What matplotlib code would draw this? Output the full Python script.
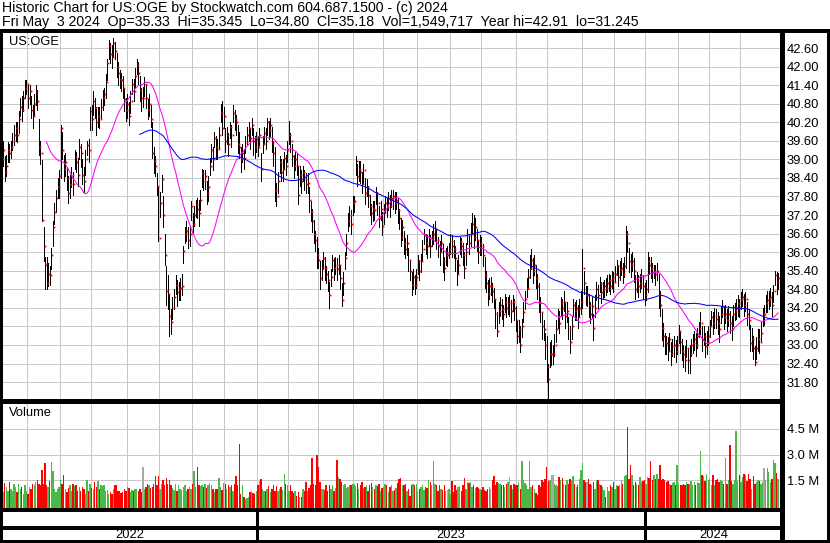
import matplotlib
matplotlib.use('Agg')
import matplotlib.pyplot as plt
import numpy as np
import pandas as pd

plt.rcParams['font.family'] = ['Liberation Sans', 'DejaVu Sans']

# daily bars, 6 May 2022 .. 3 May 2024
prev_close = 39.6
close = [
    39.0, 39.3, 38.6, 38.8, 39.3, 39.2, 39.4,
    39.6, 39.8, 40.0, 39.8, 40.3, 40.7, 40.6, 41.0, 41.3, 41.45,
    41.0, 41.2, 40.6, 40.4, 40.8, 41.2, 40.9, 39.4, 39.2, 37.05,
    36.2, 35.6, 35.0, 35.3, 35.25, 35.9, 36.8, 37.3, 37.75, 38.1,
    38.45, 40.0, 39.3, 38.7, 38.9, 38.4, 37.9, 38.2, 38.5, 38.2,
    39.1, 38.9, 38.5, 39.4, 39.2, 38.5, 38.3, 39.0, 39.45, 39.3,
    40.55, 40.3, 40.9, 40.65, 40.2, 40.4, 40.3, 40.7, 41.0, 41.1,
    41.5, 42.1, 42.65, 42.4, 42.3, 42.75, 42.5, 42.0, 41.8, 41.6,
    41.55, 41.3, 40.95, 40.6, 40.8, 40.4, 40.9, 41.45, 41.2, 41.7,
    42.05, 41.8, 41.25, 41.0, 41.0, 41.45, 41.0, 40.6, 40.8, 40.3,
    39.2, 38.95, 38.8, 38.15, 36.45, 37.6, 38.35, 37.2, 35.9, 34.75,
    34.65, 33.95, 33.75, 34.2, 34.55, 34.95, 34.7, 34.8, 34.85, 34.9,
    36.05, 36.6, 36.7, 36.4, 36.6, 37.5, 36.9, 37.2, 37.55, 37.4,
    37.25, 37.7, 38.55, 38.3, 38.45, 37.9, 38.1, 38.8, 39.3, 39.0,
    39.7, 39.4, 39.35, 39.8, 40.5, 40.0, 40.4, 39.6, 39.8, 39.5,
    40.05, 39.8, 40.5, 40.3, 40.2, 39.5, 39.4, 39.0, 39.2, 39.05,
    39.55, 39.8, 40.0, 39.7, 40.1, 39.6, 39.4, 39.65, 39.4, 39.8,
    38.7, 39.5, 39.85, 39.6, 40.2, 39.95, 40.1, 39.55, 39.2, 38.0,
    37.8, 38.3, 38.9, 38.6, 38.7, 39.05, 38.8, 39.3, 39.8, 39.6,
    39.1, 38.8, 39.0, 38.8, 37.85, 38.5, 38.3, 38.6, 38.35, 38.2,
    38.25, 37.7, 37.3, 37.0, 36.6, 36.4, 35.9, 35.75, 35.15, 35.5,
    35.8, 35.5, 35.3, 35.1, 34.6, 35.2, 35.75, 35.5, 35.6, 35.45,
    35.6, 35.15, 34.45, 35.0, 35.8, 36.3, 37.0, 37.2, 36.9, 37.6,
    37.65, 38.95, 38.45, 38.7, 38.6, 38.2, 38.65, 37.9, 38.1, 37.85,
    37.5, 37.25, 37.4, 37.35, 37.9, 37.6, 37.1, 37.4, 36.85, 37.3,
    37.6, 37.45, 37.75, 37.5, 37.75, 37.8, 37.6, 37.7, 37.35, 37.1,
    36.5, 36.8, 36.3, 36.1, 36.3, 35.75, 35.4, 34.95, 35.2, 34.95,
    35.2, 35.7, 35.4, 35.7, 36.1, 36.55, 36.3, 36.2, 36.5, 36.2,
    36.5, 36.6, 36.75, 36.4, 36.2, 36.0, 36.3, 35.7, 35.5, 35.9,
    35.9, 36.1, 36.35, 36.2, 36.1, 35.8, 35.3, 35.6, 36.35, 36.2,
    35.9, 35.5, 36.0, 36.55, 36.3, 36.6, 36.9, 36.5, 36.8, 36.4,
    36.0, 36.3, 36.2, 35.9, 35.25, 35.0, 34.65, 34.9, 34.9, 34.75,
    34.5, 34.0, 33.45, 34.1, 34.3, 34.15, 34.0, 34.4, 34.2, 34.35,
    34.35, 34.1, 34.4, 34.2, 33.8, 33.3, 33.5, 33.0, 33.6, 34.05,
    34.5, 34.85, 35.2, 35.5, 35.75, 35.4, 35.6, 35.15, 34.9, 34.4,
    34.05, 33.6, 33.5, 33.0, 32.3, 31.9, 32.7, 32.7, 32.7, 33.0,
    33.5, 33.9, 33.7, 34.35, 34.2, 34.4, 33.95, 34.1, 33.5, 33.1,
    33.6, 34.3, 34.1, 34.2, 33.9, 34.2, 34.4, 35.5, 35.0, 34.6,
    34.6, 34.3, 34.0, 34.25, 33.55, 34.2, 34.8, 34.6, 35.0, 34.7,
    34.8, 34.9, 34.85, 35.0, 35.1, 34.9, 35.15, 35.05, 35.3, 35.55,
    35.2, 35.45, 35.5, 35.3, 35.55, 36.6, 36.3, 35.7, 35.6, 35.7,
    35.4, 34.8, 35.1, 34.9, 35.0, 35.2, 34.9, 34.6, 34.8, 35.7,
    35.6, 35.5, 35.35, 35.4, 35.3, 35.4, 34.6, 34.3, 33.55, 33.3,
    33.1, 33.05, 32.8, 33.2, 32.7, 32.95, 33.0, 32.8, 33.0, 33.45,
    33.1, 32.8, 32.7, 32.5, 32.9, 32.5, 32.7, 33.0, 33.05, 33.2,
    33.0, 33.3, 33.55, 33.7, 33.2, 33.3, 32.95, 33.1, 33.3, 33.6,
    33.9, 33.7, 33.95, 33.85, 33.7, 33.5, 34.0, 34.25, 33.9, 34.0,
    33.8, 34.0, 33.7, 33.5, 34.0, 34.1, 34.2, 34.35, 34.2, 34.5,
    34.55, 34.3, 34.5, 34.0, 33.8, 33.05, 33.2, 32.9, 32.45, 32.9,
    33.2, 33.1, 33.4, 34.0, 34.0, 34.35, 34.45, 34.5, 34.55, 34.3,
    34.75, 35.25, 35.05, 35.18,
]
# high above close / low below close, in cents
high_up = [
    45, 30, 50, 35, 25, 30, 20,
    25, 30, 20, 40, 25, 30, 45, 20, 25, 10,
    40, 20, 45, 35, 30, 20, 35, 90, 40, 193,
    60, 25, 85, 35, 30, 25, 20, 30, 25, 30,
    20, 10, 60, 45, 30, 35, 55, 30, 25, 40,
    20, 35, 55, 25, 30, 50, 45, 30, 15, 35,
    15, 45, 30, 35, 50, 30, 40, 25, 25, 20,
    25, 15, 20, 35, 40, 16, 30, 45, 35, 30,
    25, 40, 35, 40, 30, 45, 30, 15, 40, 25,
    20, 35, 45, 30, 35, 20, 40, 35, 30, 45,
    100, 45, 30, 40, 170, 35, 15, 60, 70, 80,
    60, 70, 40, 35, 25, 30, 40, 25, 30, 40,
    15, 20, 30, 40, 25, 15, 35, 30, 15, 35,
    45, 30, 15, 35, 20, 40, 35, 25, 20, 40,
    20, 35, 30, 25, 30, 90, 30, 40, 25, 35,
    15, 30, 25, 30, 25, 60, 50, 40, 30, 25,
    20, 25, 20, 30, 25, 40, 35, 25, 35, 20,
    50, 25, 20, 40, 15, 30, 25, 50, 40, 140,
    45, 30, 20, 40, 30, 20, 35, 30, 45, 25,
    40, 35, 25, 40, 90, 30, 35, 20, 30, 35,
    30, 40, 35, 40, 45, 30, 60, 40, 55, 25,
    20, 35, 25, 30, 45, 25, 15, 30, 25, 35,
    30, 40, 55, 35, 20, 30, 25, 30, 45, 20,
    15, 15, 40, 25, 35, 40, 20, 50, 25, 30,
    35, 30, 25, 30, 20, 35, 40, 25, 45, 25,
    20, 30, 20, 35, 25, 20, 35, 25, 40, 30,
    60, 25, 40, 35, 25, 40, 35, 40, 25, 30,
    25, 20, 35, 25, 30, 20, 30, 35, 25, 35,
    20, 30, 25, 35, 30, 35, 25, 55, 35, 25,
    30, 20, 25, 35, 30, 40, 45, 30, 15, 25,
    40, 50, 30, 20, 30, 35, 35, 70, 30, 35,
    40, 25, 30, 35, 60, 40, 45, 25, 30, 25,
    35, 45, 60, 30, 25, 35, 30, 25, 35, 20,
    25, 35, 20, 30, 45, 50, 30, 60, 25, 35,
    25, 30, 25, 40, 35, 40, 30, 45, 40, 60,
    50, 45, 30, 40, 100, 50, 40, 45, 30, 35,
    30, 25, 40, 20, 30, 35, 45, 30, 40, 50,
    35, 20, 30, 25, 40, 30, 35, 60, 40, 30,
    30, 35, 40, 30, 45, 40, 25, 35, 20, 35,
    25, 20, 30, 25, 20, 35, 25, 30, 25, 20,
    40, 25, 30, 35, 30, 26, 40, 45, 35, 30,
    40, 45, 25, 35, 30, 25, 35, 40, 30, 30,
    25, 35, 30, 20, 30, 25, 70, 45, 60, 40,
    30, 25, 45, 20, 40, 25, 30, 35, 30, 20,
    35, 40, 30, 45, 25, 40, 30, 20, 30, 25,
    40, 25, 20, 35, 40, 30, 45, 35, 30, 20,
    20, 35, 25, 30, 35, 45, 25, 20, 35, 30,
    35, 25, 40, 45, 30, 25, 30, 25, 30, 20,
    25, 35, 20, 40, 35, 60, 35, 40, 50, 35,
    30, 40, 35, 20, 30, 25, 30, 25, 30, 40,
    20, 15, 30, 16,
]
low_dn = [
    30, 50, 30, 35, 40, 30, 35,
    30, 35, 40, 25, 45, 30, 35, 45, 30, 35,
    35, 40, 25, 40, 35, 45, 30, 25, 35, 5,
    50, 80, 20, 40, 30, 45, 60, 40, 45, 35,
    70, 160, 30, 40, 45, 40, 30, 45, 40, 35,
    40, 30, 35, 40, 45, 30, 35, 50, 30, 40,
    60, 35, 45, 30, 40, 35, 30, 35, 40, 35,
    50, 55, 40, 30, 35, 40, 25, 35, 40, 30,
    35, 30, 40, 35, 45, 30, 40, 35, 30, 35,
    30, 40, 35, 45, 30, 40, 35, 30, 40, 25,
    15, 40, 35, 30, 10, 45, 40, 40, 30, 45,
    50, 65, 40, 35, 40, 30, 45, 35, 40, 30,
    40, 30, 35, 25, 40, 45, 30, 35, 40, 30,
    40, 35, 45, 30, 40, 35, 45, 30, 40, 35,
    30, 40, 35, 45, 30, 20, 40, 35, 30, 40,
    35, 40, 30, 35, 40, 30, 35, 40, 30, 35,
    35, 30, 40, 35, 30, 45, 35, 40, 30, 35,
    40, 30, 35, 25, 40, 30, 35, 30, 40, 35,
    30, 40, 35, 30, 40, 35, 30, 40, 30, 35,
    30, 40, 35, 30, 30, 35, 40, 30, 35, 30,
    35, 40, 30, 35, 30, 35, 40, 25, 35, 40,
    35, 40, 30, 35, 40, 30, 35, 40, 30, 35,
    30, 35, 20, 40, 35, 40, 30, 35, 30, 40,
    35, 45, 30, 40, 35, 30, 40, 35, 30, 40,
    30, 35, 40, 30, 35, 40, 30, 35, 30, 40,
    35, 30, 40, 35, 30, 40, 35, 30, 40, 35,
    30, 40, 35, 30, 40, 35, 30, 35, 40, 30,
    35, 40, 30, 35, 40, 30, 35, 40, 30, 35,
    30, 35, 40, 30, 35, 40, 30, 35, 40, 30,
    35, 30, 40, 35, 30, 40, 35, 30, 40, 35,
    30, 35, 40, 30, 35, 40, 30, 35, 40, 35,
    35, 40, 30, 35, 40, 30, 35, 40, 30, 35,
    30, 45, 15, 40, 35, 30, 40, 35, 30, 35,
    40, 35, 30, 40, 35, 25, 40, 22, 35, 30,
    35, 30, 40, 35, 30, 40, 35, 30, 40, 35,
    30, 40, 35, 45, 50, 65, 40, 35, 30, 35,
    40, 35, 30, 40, 35, 30, 40, 35, 30, 35,
    40, 35, 30, 40, 35, 30, 40, 130, 35, 30,
    35, 40, 30, 35, 40, 30, 35, 40, 30, 35,
    30, 35, 25, 30, 35, 25, 30, 35, 25, 30,
    30, 35, 25, 30, 35, 110, 30, 35, 40, 30,
    35, 30, 40, 35, 30, 35, 40, 30, 35, 100,
    30, 35, 30, 25, 35, 30, 40, 35, 40, 35,
    40, 35, 30, 40, 35, 30, 40, 35, 30, 40,
    35, 30, 40, 35, 30, 40, 60, 35, 30, 35,
    35, 40, 30, 35, 40, 30, 35, 40, 30, 35,
    30, 35, 40, 30, 35, 40, 30, 35, 40, 30,
    35, 40, 30, 35, 40, 30, 35, 40, 30, 35,
    30, 35, 40, 35, 30, 25, 40, 35, 10, 35,
    40, 35, 30, 40, 35, 30, 40, 35, 30, 35,
    35, 30, 40, 38,
]
# volume, millions of shares
volume = [
    1.2, 0.8, 1.35, 1.1, 0.9, 1.4, 1.0,
    0.9, 1.3, 1.1, 0.8, 1.3, 1.0, 1.1, 0.7, 1.25, 0.9,
    0.7, 1.1, 1.0, 1.3, 1.25, 1.4, 1.5, 1.3, 1.2, 2.1,
    1.3, 2.5, 1.2, 1.1, 1.45, 2.55, 2.05, 1.0, 0.8, 1.0,
    1.1, 1.5, 1.3, 1.8, 1.0, 0.8, 1.05, 1.2, 0.9, 1.3,
    1.15, 1.25, 0.85, 1.1, 0.9, 1.1, 1.0, 0.7, 1.5, 0.9,
    1.3, 1.05, 1.0, 1.4, 1.1, 1.45, 1.0, 1.2, 1.15, 1.2,
    0.9, 0.95, 0.7, 0.8, 0.7, 1.0, 1.2, 1.25, 0.85, 0.9,
    0.75, 0.8, 1.0, 0.9, 1.1, 1.05, 0.8, 0.95, 0.9, 1.0,
    1.0, 0.85, 1.0, 0.8, 2.3, 1.0, 1.1, 1.3, 1.2, 1.05,
    1.1, 1.3, 1.75, 1.2, 1.75, 1.0, 1.3, 1.5, 1.2, 1.65,
    1.3, 1.5, 1.2, 1.05, 0.95, 1.3, 0.9, 1.2, 1.0, 0.95,
    1.1, 1.25, 0.9, 1.0, 1.1, 1.0, 1.3, 2.05, 1.1, 2.25,
    1.25, 1.15, 1.2, 1.1, 1.3, 1.05, 1.25, 1.35, 1.2, 1.0,
    0.8, 1.0, 1.0, 1.65, 1.1, 0.95, 1.35, 1.3, 1.0, 1.2,
    1.1, 1.2, 0.9, 1.3, 1.75, 1.2, 3.6, 0.7, 1.2, 0.5,
    0.4, 0.45, 0.5, 0.8, 0.9, 0.75, 0.7, 0.9, 1.2, 1.45,
    1.6, 1.0, 0.9, 0.85, 1.0, 1.15, 0.8, 1.0, 1.25, 0.9,
    1.15, 0.85, 1.0, 1.1, 0.95, 1.85, 1.3, 1.2, 0.9, 1.25,
    0.9, 0.75, 0.9, 0.6, 0.8, 0.5, 0.55, 1.0, 0.9, 1.4,
    0.9, 1.05, 1.2, 2.8, 1.3, 1.2, 3.0, 2.3, 1.4, 1.0,
    1.0, 0.95, 1.25, 0.9, 1.2, 1.0, 1.25, 0.9, 1.05, 2.7,
    1.7, 1.6, 1.4, 1.2, 1.3, 1.05, 1.1, 1.25, 1.2, 1.3,
    1.3, 1.15, 1.35, 1.0, 1.2, 1.4, 1.05, 1.1, 1.2, 0.9,
    1.25, 1.35, 1.1, 1.0, 1.25, 1.15, 1.3, 0.9, 1.05, 1.1,
    1.3, 1.2, 0.8, 1.1, 1.25, 0.85, 0.95, 1.05, 1.35, 1.55,
    1.65, 1.25, 1.2, 1.3, 0.9, 1.0, 0.6, 1.25, 1.3, 1.25,
    1.3, 0.8, 1.0, 1.1, 1.2, 0.95, 1.1, 1.05, 1.5, 1.4,
    1.2, 2.65, 1.3, 1.25, 0.9, 1.2, 1.0, 0.95, 1.25, 0.9,
    0.95, 1.0, 0.7, 1.45, 0.8, 1.25, 0.95, 1.1, 1.15, 0.85,
    1.2, 1.65, 1.0, 1.4, 1.35, 1.4, 1.1, 1.2, 1.05, 1.1,
    1.05, 1.0, 0.95, 1.1, 0.95, 0.9, 1.0, 1.1, 1.0, 1.5,
    1.75, 1.25, 1.4, 1.35, 1.3, 1.2, 1.25, 1.1, 1.3, 1.4,
    1.7, 1.2, 1.0, 1.3, 1.2, 1.25, 1.4, 1.0, 2.6, 1.5,
    1.35, 1.2, 1.0, 2.6, 1.1, 1.2, 1.0, 0.75, 0.65, 1.25,
    1.1, 1.5, 1.4, 1.55, 2.25, 1.45, 1.5, 1.8, 1.8, 1.3,
    1.2, 1.15, 1.7, 1.5, 1.65, 1.3, 1.25, 1.5, 1.3, 1.55,
    1.5, 1.75, 1.3, 1.1, 1.2, 1.6, 2.1, 2.5, 1.5, 1.4,
    1.4, 1.6, 1.3, 1.2, 1.4, 1.0, 1.45, 1.5, 1.3, 1.2,
    1.1, 0.95, 0.5, 1.1, 0.9, 1.25, 1.1, 1.4, 1.0, 1.2,
    1.15, 1.25, 1.5, 1.3, 1.75, 1.8, 4.6, 1.6, 2.4, 1.8,
    1.25, 1.4, 1.3, 1.25, 1.7, 1.4, 1.45, 1.5, 1.3, 1.7,
    1.65, 2.65, 1.5, 1.8, 1.6, 1.85, 1.6, 2.4, 1.5, 1.55,
    1.5, 1.4, 1.45, 1.3, 1.2, 1.35, 1.4, 1.25, 2.4, 1.3,
    1.25, 1.2, 1.3, 1.2, 1.4, 1.3, 1.3, 1.45, 1.25, 1.4,
    1.2, 1.4, 1.35, 3.2, 1.8, 1.75, 1.45, 1.85, 1.5, 1.6,
    1.2, 1.8, 1.2, 1.5, 1.55, 1.4, 1.5, 1.45, 1.3, 2.8,
    1.3, 1.5, 3.55, 1.45, 1.3, 1.5, 4.4, 1.45, 1.8, 1.4,
    1.7, 1.85, 1.8, 1.45, 1.85, 1.55, 1.0, 1.75, 1.3, 1.4,
    1.5, 1.45, 1.3, 1.4, 2.2, 1.5, 2.2, 2.0, 1.4, 1.6,
    2.7, 2.5, 1.95, 1.55,
]

# first bar of each month (bar index), first bar of each year
month_starts = [17, 38, 58, 81, 102, 123, 144, 165, 185, 204, 227, 246,
                268, 289, 309, 332, 352, 374, 395, 415, 436, 456, 476]
year_starts = [165, 415]
years = ['2022', '2023', '2024']
price_ticks = [31.8, 32.4, 33.0, 33.6, 34.2, 34.8, 35.4, 36.0, 36.6, 37.2,
               37.8, 38.4, 39.0, 39.6, 40.2, 40.8, 41.4, 42.0, 42.6]
vol_ticks = [1.5, 3.0, 4.5]

title1 = 'Historic Chart for US:OGE by Stockwatch.com 604.687.1500 - (c) 2024'
title2 = ('Fri May  3 2024  Op=35.33  Hi=35.345  Lo=34.80  Cl=35.18  '
          'Vol=1,549,717  Year hi=42.91  lo=31.245')

c = np.array(close)
hi = c + np.array(high_up) / 100
lo = c - np.array(low_dn) / 100
x = np.arange(len(c))
ma30 = pd.Series(c).rolling(30).mean()
ma90 = pd.Series(c).rolling(90).mean()
chg = np.round(np.diff(c, prepend=prev_close), 3)
vcol = np.where(chg > 0, '#4cb848', np.where(chg < 0, '#ff0000', '#a8a8a8'))

W, H = 830, 543
fig = plt.figure(figsize=(W / 100, H / 100), dpi=100)

def box(x0, y0, x1, y1):
    return [x0 / W, 1 - y1 / H, (x1 - x0) / W, (y1 - y0) / H]

XMIN = 0.26
XMAX = XMIN + 780 / 1.553
GRID = '#c8c8c8'

# price panel
ax = fig.add_axes(box(2, 31, 782, 400))
ax.set_xlim(XMIN, XMAX)
ax.set_ylim(31.22, 43.15)
ax.set_xticks(np.array(month_starts) - 0.5)
ax.set_yticks(price_ticks)
ax.set_yticklabels([f'{v:.2f}' for v in price_ticks])
ax.yaxis.tick_right()
ax.tick_params(axis='x', length=0, labelbottom=False)
ax.tick_params(axis='y', length=0, pad=3.6, labelsize=9.3)
ax.grid(True, color=GRID, lw=0.7, antialiased=False)
ax.set_axisbelow(True)
for s in ax.spines.values():
    s.set_visible(False)
ax.vlines(x, lo, hi, color='black', lw=0.72, antialiased=False, zorder=2)
# red close marks on the right of each bar
ax.plot(x + 0.7, c, ls='none', marker='s', ms=1.3, mew=0, color='#ff0000',
        zorder=3)
ax.plot(x, ma30, color='#ff00ff', lw=0.75, zorder=4)
ax.plot(x, ma90, color='#0000ff', lw=0.75, zorder=4)

# volume panel
av = fig.add_axes(box(2, 402, 782, 509))
av.set_xlim(XMIN, XMAX)
av.set_ylim(-0.175, 6.07)
av.set_xticks(np.array(month_starts) - 0.5)
av.set_yticks(vol_ticks)
av.set_yticklabels([f'{v:.1f} M' for v in vol_ticks])
av.yaxis.tick_right()
av.tick_params(axis='x', length=0, labelbottom=False)
av.tick_params(axis='y', length=0, pad=3.6, labelsize=9.3)
av.grid(True, color=GRID, lw=0.7, antialiased=False)
av.set_axisbelow(True)
for s in av.spines.values():
    s.set_visible(False)
av.bar(x, np.array(volume) + 0.175, bottom=-0.175, width=0.9, color=vcol,
       linewidth=0, antialiased=False)

# year row
ay = fig.add_axes(box(2, 527, 782, 541))
ay.set_xlim(XMIN, XMAX)
ay.set_ylim(0, 1)
ay.axis('off')
edges = [XMIN] + [s - 0.5 for s in year_starts] + [XMAX]
for k, yr in enumerate(years):
    ay.text((edges[k] + edges[k + 1]) / 2, 0.45, yr, ha='center', va='center',
            fontsize=9.3)

# frame and header text in pixel coordinates
ov = fig.add_axes([0, 0, 1, 1], zorder=10)
ov.set_xlim(0, W)
ov.set_ylim(H, 0)
ov.axis('off')
k = dict(color='black', antialiased=False, solid_capstyle='butt')
ov.plot([0, W], [31, 31], lw=1.6, **k)
ov.plot([1, 1], [30, 542], lw=1.6, **k)
ov.plot([782, 782], [30, 542], lw=2.2, **k)
ov.plot([828.5, 828.5], [30, 542], lw=1.6, **k)
ov.plot([0, 782], [399.5, 399.5], lw=0.8, **k)
ov.plot([0, 782], [402, 402], lw=0.8, **k)
ov.plot([0, 782], [509.5, 509.5], lw=1.6, **k)
ov.plot([0, 782], [527.5, 527.5], lw=1.6, **k)
ov.plot([0, W], [541.5, 541.5], lw=1.6, **k)
for s in year_starts:
    px = 2 + (s - 0.5 - XMIN) * 1.553
    ov.plot([px, px], [509, 541], lw=0.8, **k)

ov.text(2, 8, title1, fontsize=10.2, va='center', ha='left')
ov.text(2, 22, title2, fontsize=10.2, va='center', ha='left')
ov.text(9, 42, 'US:OGE', fontsize=9.3, va='center', ha='left')
ov.text(9, 413, 'Volume', fontsize=9.3, va='center', ha='left')

fig.savefig('out.png', dpi=100)
